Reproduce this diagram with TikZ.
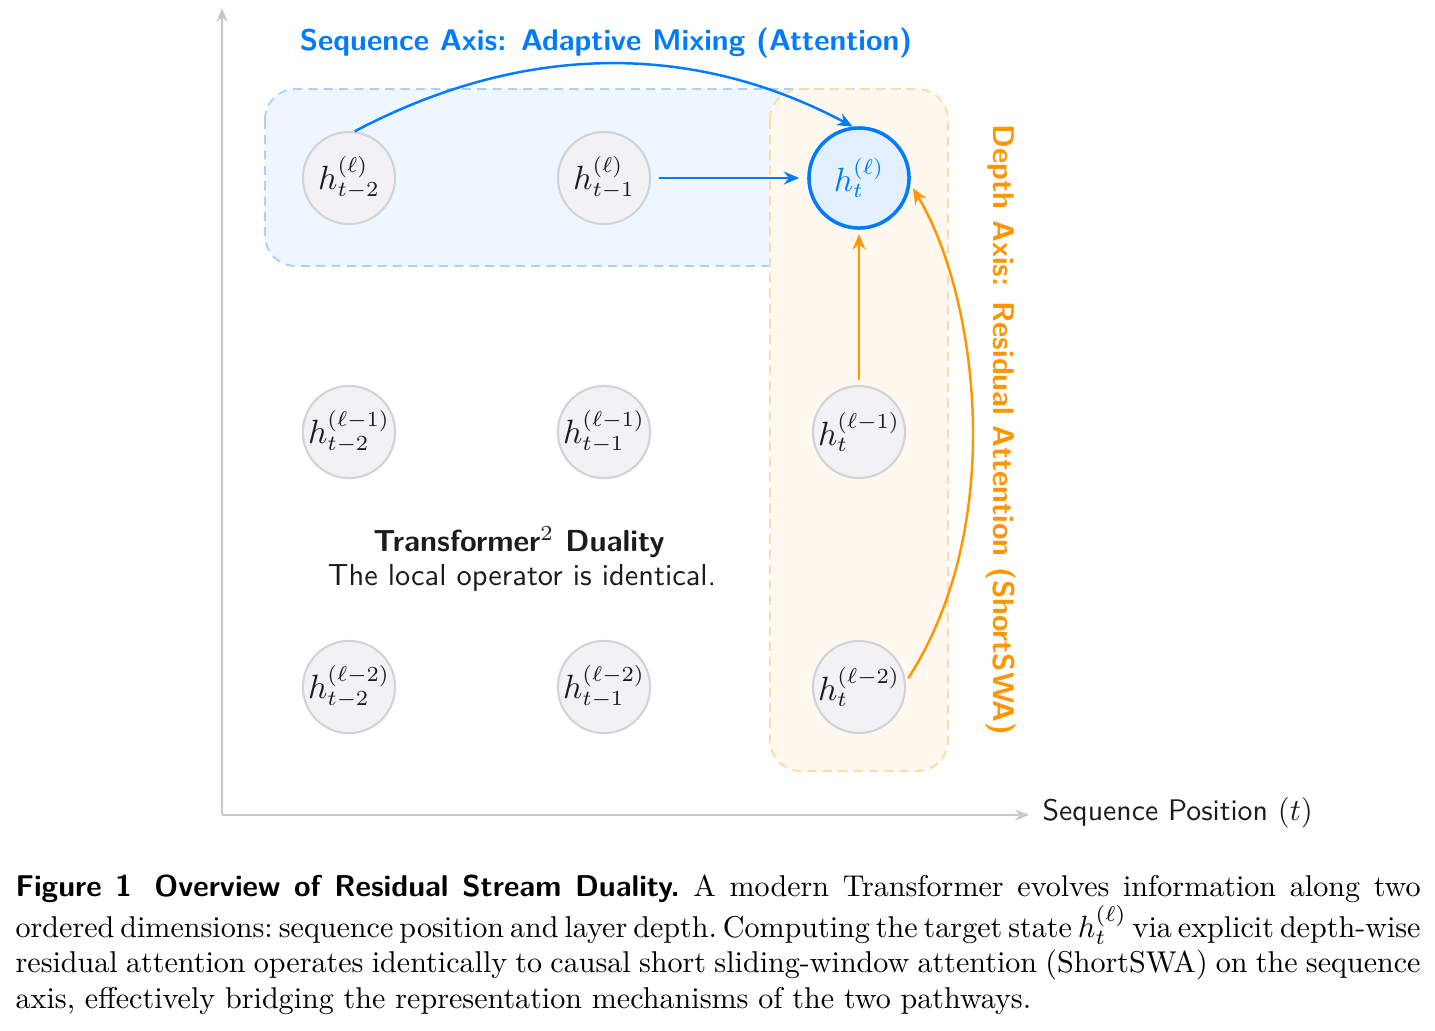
\documentclass[tikz,border=0pt]{standalone}
\usepackage{fontspec}
\usetikzlibrary{arrows.meta}
\definecolor{ablue}{HTML}{007AFF}
\definecolor{aorange}{HTML}{FF9500}
\definecolor{nodefill}{HTML}{F2F2F5}
\definecolor{nodeline}{HTML}{D1D1D6}
\definecolor{axisgray}{HTML}{C7C7CC}
\definecolor{bluebox}{HTML}{EEF6FF}
\definecolor{blueboxline}{HTML}{A8D1FF}
\definecolor{orangebox}{HTML}{FFF8EF}
\definecolor{orangeboxline}{HTML}{FFD9A6}
\definecolor{targetfill}{HTML}{E3F0FF}
\definecolor{inktext}{HTML}{1C1C1E}
\begin{document}
\begin{tikzpicture}[x=0.3257pt,y=-0.3257pt,
  state/.style={circle, draw=nodeline, fill=nodefill, line width=0.65pt,
    minimum size=30pt, inner sep=0pt, text=inktext,
    font=\fontsize{10.6}{12.5}\selectfont},
  target/.style={circle, draw=ablue, fill=targetfill, line width=1.15pt,
    minimum size=32.6pt, inner sep=0pt, text=ablue,
    font=\fontsize{10.6}{12.5}\selectfont},
  axisline/.style={draw=axisgray, line width=0.65pt, -{Stealth[length=4.5pt,width=3.6pt]}},
  blueregion/.style={draw=blueboxline, fill=bluebox, dashed, dash pattern=on 3pt off 2pt,
    line width=0.6pt, rounded corners=10pt},
  orangeregion/.style={draw=orangeboxline, fill=orangebox, dashed, dash pattern=on 3pt off 2pt,
    line width=0.6pt, rounded corners=10pt},
  bluearrow/.style={draw=ablue, line width=0.8pt, -{Stealth[length=5pt,width=4.2pt]}},
  orangearrow/.style={draw=aorange, line width=0.8pt, -{Stealth[length=5pt,width=4.2pt]}},
  axistitle/.style={font=\fontsize{9.75}{12}\selectfont\sffamily\bfseries, inner sep=0pt},
]
\useasboundingbox (0,0) rectangle (1435,1030);

% regions
\path[blueregion] (265,89) rectangle (940,266);
\path[orangeregion] (770,89) rectangle (948,771);

% axes
\coordinate (O) at (222,815);
\coordinate (ytop) at (222,8);
\coordinate (xend) at (1029,815);
\draw[axisline] (O) -- (ytop);
\draw[axisline] (O) -- (xend);
\node[anchor=west, inner sep=0pt, text=inktext, font=\fontsize{9.7}{11}\selectfont\sffamily]
  (xlabel) at (1042,813) {Sequence Position $(t)$};

% nodes
\node[state] (n11) at (349,178) {$h_{t-2}^{(\ell)}$};
\node[state] (n12) at (604,178) {$h_{t-1}^{(\ell)}$};
\node[target] (tgt) at (859,178) {$h_{t}^{(\ell)}$};
\node[state] (n21) at (349,432) {$h_{t-2}^{(\ell-1)}$};
\node[state] (n22) at (604,432) {$h_{t-1}^{(\ell-1)}$};
\node[state] (n23) at (859,432) {$h_{t}^{(\ell-1)}$};
\node[state] (n31) at (349,687) {$h_{t-2}^{(\ell-2)}$};
\node[state] (n32) at (604,687) {$h_{t-1}^{(\ell-2)}$};
\node[state] (n33) at (859,687) {$h_{t}^{(\ell-2)}$};

% titles
\node[axistitle, text=ablue] (seqtitle) at (606,43) {Sequence Axis: Adaptive Mixing (Attention)};
\node[axistitle, text=aorange, rotate=-90] (deptitle) at (1001,430) {Depth Axis: Residual Attention (ShortSWA)};

% duality text
\node[inner sep=0pt, text=inktext, font=\fontsize{9.9}{12}\selectfont\sffamily\bfseries] (dual) at (519,542) {Transformer$^2$ Duality};
\node[inner sep=0pt, text=inktext, font=\fontsize{9.9}{12}\selectfont\sffamily] (dualsub) at (522,578) {The local operator is identical.};

% arrows
\draw[bluearrow] (n11.83) .. controls (520,44) and (690,40) .. (tgt.97);
\draw[bluearrow, shorten <=2.6pt, shorten >=2.6pt] (n12.east) -- (tgt.west);
\draw[orangearrow, shorten <=1.6pt, shorten >=1.4pt] (n23.north) -- (tgt.south);
\draw[orangearrow, shorten <=1.5pt, shorten >=1.5pt] (n33.6) .. controls (1010,520) and (975,290) .. (tgt.-7);

% caption
\node[anchor=base west, inner sep=0pt] (caption) at (15,896) {\parbox[t]{457.6pt}{\fontsize{9.8}{11.6}\selectfont\hyphenpenalty=10000\frenchspacing
\spaceskip=3.2pt plus 2pt minus 1.7pt
\textsf{\textbf{Figure 1}}\hspace{0.75em}\textsf{\textbf{Overview of Residual Stream Duality.}} A modern Transformer evolves information along two\linebreak ordered dimensions: sequence position and layer depth. Computing the target state $h_t^{(\ell)}$ via explicit \mbox{depth-wise}\linebreak residual attention operates identically to causal short sliding-window attention (ShortSWA) on the sequence\linebreak axis, effectively bridging the representation mechanisms of the two pathways.}};
\end{tikzpicture}
\end{document}
